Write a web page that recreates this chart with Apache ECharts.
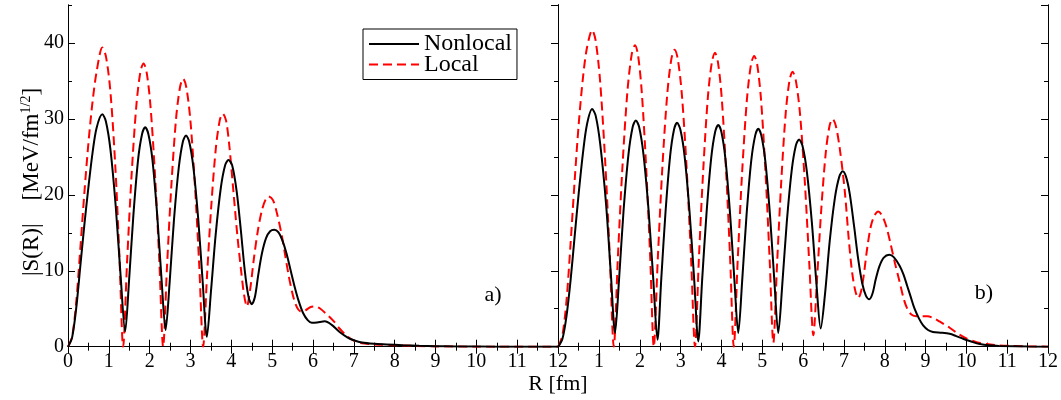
<!DOCTYPE html>
<html>
<head>
<meta charset="utf-8">
<script src="https://cdn.jsdelivr.net/npm/echarts@6/dist/echarts.min.js"></script>
<style>html,body{margin:0;padding:0;background:#fff}#c{width:1061px;height:400px}</style>
</head>
<body>
<div id="c"></div>
<script>
// ---- data ----
const seriesNames = ['Nonlocal', 'Local'];
const xTicks = [0,1,2,3,4,5,6,7,8,9,10,11,12];
const yTicks = [0,10,20,30,40];

// panel a)
const nonlocalA = [[0,0],[0.1,1.2],[0.2,5],[0.3,10.5],[0.4,16],[0.5,21],[0.6,25.5],[0.7,28.8],[0.84,30.6],
[0.927,29.7],[1.039,26.0],[1.17,18.4],[1.29,9.2],[1.40,2.0],
[1.495,8.7],[1.601,17.3],[1.716,24.6],[1.814,28.0],[1.89,28.9],
[1.968,28.0],[2.068,24.6],[2.185,17.3],[2.293,8.7],[2.39,2.2],
[2.487,8.3],[2.595,16.7],[2.713,23.6],[2.813,27.0],[2.89,27.8],
[2.969,27.0],[3.071,23.6],[3.191,16.7],[3.301,8.3],[3.40,1.3],
[3.503,7.4],[3.617,14.8],[3.742,20.9],[3.848,23.9],[3.93,24.6],
[4.02,23.9],[4.13,20.5],[4.23,15.5],[4.33,10],[4.42,6.6],[4.5,5.6],[4.58,6.6],[4.66,9.5],[4.75,12.3],[4.85,14.3],[4.95,15.2],[5.05,15.4],
[5.15,15.1],[5.25,14.0],[5.35,12.3],[5.45,10.1],[5.55,7.9],[5.65,6.0],[5.76,4.4],[5.87,3.5],[5.97,3.15],[6.1,3.2],[6.29,3.35],[6.45,2.9],[6.66,1.9],[6.85,1.2],[7.0,0.85],[7.2,0.55],[7.5,0.38],[7.8,0.3],[8.2,0.2],[8.6,0.12],[9,0.07],[9.5,0.03],[10,0.01],[11,0],[12,0]];

const localA = [[0,0],[0.1,1.3],[0.2,5.8],[0.3,12.8],[0.4,20.2],[0.5,26.8],[0.6,32.2],[0.7,36.2],[0.84,39.4],
[0.93,38.2],[1.04,33.5],[1.16,23.6],[1.26,11.8],[1.35,0],
[1.447,11.2],[1.555,22.4],[1.673,31.7],[1.773,36.2],[1.85,37.3],
[1.924,36.2],[2.02,31.7],[2.133,22.4],[2.237,11.2],[2.33,0],
[2.425,10.6],[2.531,21.2],[2.646,30.0],[2.744,34.2],[2.82,35.3],
[2.896,34.2],[2.994,30.0],[3.109,21.2],[3.215,10.6],[3.31,0],
[3.403,9.2],[3.507,18.4],[3.62,26.1],[3.716,29.8],[3.79,30.7],
[3.87,29.8],[3.95,26.5],[4.05,20.5],[4.15,14.5],[4.24,10],[4.31,6.9],[4.38,5.3],[4.46,7.5],[4.55,11.5],[4.65,15.3],[4.75,18.0],[4.84,19.4],[4.91,19.8],
[5.02,19.3],[5.12,17.5],[5.23,14.8],[5.32,12],[5.4,9.5],[5.48,7.4],[5.56,5.8],[5.64,4.9],[5.72,4.6],[5.82,4.8],[5.93,5.2],[6.05,5.3],[6.18,5.0],[6.33,4.3],[6.5,3.4],[6.65,2.4],[6.83,1.4],[7.0,0.8],[7.15,0.5],[7.5,0.3],[8,0.2],[8.5,0.1],[9,0.04],[10,0],[12,0]];

// panel b)
const nonlocalB = [[0,0],[0.1,1.0],[0.2,4.0],[0.3,8.7],[0.4,14.5],[0.5,20.2],[0.6,25.3],[0.7,29.2],[0.83,31.3],
[0.917,30.4],[1.029,26.6],[1.17,18.8],[1.29,9.4],[1.39,1.8],
[1.489,8.9],[1.599,17.9],[1.719,25.3],[1.821,28.9],[1.90,29.8],
[1.982,28.9],[2.088,25.3],[2.213,17.9],[2.327,8.9],[2.43,0.9],
[2.523,8.9],[2.627,17.7],[2.74,25.1],[2.836,28.6],[2.91,29.5],
[2.991,28.6],[3.095,25.1],[3.217,17.7],[3.329,8.9],[3.43,0.7],
[3.525,8.8],[3.631,17.5],[3.746,24.8],[3.844,28.3],[3.92,29.2],
[3.996,28.3],[4.094,24.8],[4.209,17.5],[4.315,8.8],[4.41,1.8],
[4.505,8.6],[4.611,17.2],[4.726,24.4],[4.824,27.8],[4.90,28.7],
[4.976,27.8],[5.074,24.4],[5.189,17.2],[5.295,8.6],[5.39,1.8],
[5.489,8.2],[5.599,16.4],[5.719,23.2],[5.821,26.5],[5.90,27.3],
[5.982,26.5],[6.088,23.2],[6.213,16.4],[6.327,8.2],[6.43,2.4],
[6.535,6.9],[6.651,13.9],[6.778,19.6],[6.886,22.4],[6.97,23.1],
[7.05,22.4],[7.14,20.2],[7.25,15.8],[7.35,11.5],[7.45,8.3],[7.54,6.7],[7.62,6.25],[7.70,7.0],[7.78,8.9],[7.87,10.6],[7.97,11.7],[8.11,12.1],[8.22,11.8],[8.36,10.7],[8.46,9.5],[8.55,8.0],[8.64,6.5],[8.73,5.0],[8.84,3.7],[8.94,2.8],[9.06,2.2],[9.18,1.95],[9.4,1.85],[9.59,1.7],[9.75,1.4],[9.92,1.05],[10.16,0.6],[10.33,0.35],[10.55,0.18],[10.8,0.1],[11.5,0.02],[12,0]];

const localB = [[0,0],[0.1,1.5],[0.2,6],[0.3,13.5],[0.4,21.8],[0.5,29.3],[0.6,35.2],[0.7,39.3],[0.83,41.7],
[0.912,40.4],[1.018,35.4],[1.143,25.0],[1.257,12.5],[1.36,0],
[1.461,11.9],[1.573,23.8],[1.695,33.7],[1.799,38.5],[1.88,39.7],
[1.951,38.5],[2.043,33.7],[2.151,23.8],[2.251,11.9],[2.34,0],
[2.439,11.7],[2.549,23.5],[2.669,33.2],[2.771,37.9],[2.85,39.1],
[2.928,37.9],[3.028,33.2],[3.145,23.5],[3.253,11.7],[3.35,0],
[3.445,11.6],[3.551,23.2],[3.666,32.9],[3.764,37.5],[3.84,38.7],
[3.911,37.5],[4.003,32.9],[4.111,23.2],[4.211,11.6],[4.30,0],
[4.397,11.5],[4.505,23.0],[4.623,32.6],[4.723,37.2],[4.80,38.3],
[4.873,37.2],[4.967,32.6],[5.077,23.0],[5.179,11.5],[5.27,0.5],
[5.361,10.9],[5.463,21.7],[5.573,30.8],[5.667,35.1],[5.74,36.2],
[5.819,35.1],[5.921,30.8],[6.041,21.7],[6.151,10.9],[6.25,1.5],
[6.341,9.0],[6.443,18.0],[6.553,25.5],[6.647,29.1],[6.72,30.0],
[6.80,29.1],[6.90,26.0],[7.02,20.5],[7.12,14.0],[7.2,9.8],[7.28,7.3],[7.35,6.4],[7.42,7.3],[7.49,9.6],[7.57,13.0],[7.66,15.9],[7.75,17.3],[7.84,17.8],[7.94,17.2],[8.04,15.8],[8.14,13.6],[8.25,11.0],[8.37,8.4],[8.47,6.2],[8.56,4.9],[8.66,4.2],[8.78,4.0],[8.9,4.0],[9.05,4.0],[9.18,3.8],[9.35,3.3],[9.5,2.8],[9.59,2.5],[9.8,1.7],[10.0,1.1],[10.25,0.6],[10.5,0.35],[10.8,0.18],[11.1,0.1],[11.6,0.03],[12,0]];

// ---- chart ----
const FONT = 'Liberation Serif';
const chart = echarts.init(document.getElementById('c'), null, {renderer: 'canvas'});
const black = '#000';
const axisLine = {show: true, lineStyle: {color: black, width: 1}};

function xAx(grid, pos, labels, hideMin) {
  return {
    type: 'value', gridIndex: grid, position: pos, min: xTicks[0], max: xTicks[xTicks.length-1], interval: 1,
    axisLine: axisLine, splitLine: {show: false},
    axisTick: {show: true, inside: true, length: 7, lineStyle: {color: black}},
    minorTick: {show: true, splitNumber: 2, length: 4, lineStyle: {color: black}},
    axisLabel: {show: labels, color: black, fontFamily: FONT, fontSize: 20, margin: 5, showMinLabel: !hideMin, showMaxLabel: true}
  };
}
function yAx(grid, pos, labels, major, ticks) {
  return {
    type: 'value', gridIndex: grid, position: pos, min: 0, max: 45, interval: major ? 10 : 5,
    axisLine: axisLine, splitLine: {show: false},
    axisTick: {show: ticks, inside: true, length: major ? 7 : 4, lineStyle: {color: black}},
    axisLabel: {show: labels, color: black, fontFamily: FONT, fontSize: 20, margin: 4, showMaxLabel: false}
  };
}

const solid = {color: black, width: 2, type: 'solid'};
const dashed = {color: '#ff0000', width: 2, type: [9, 5]};
function line(name, data, gi, style) {
  return {
    name: name, type: 'line', data: data, xAxisIndex: gi * 2, yAxisIndex: gi * 4,
    symbol: 'none', showSymbol: false, smooth: 0.3,
    lineStyle: style, itemStyle: {color: style.color},
    z: name === 'Local' ? 3 : 4, animation: false
  };
}

const option = {
  animation: false,
  backgroundColor: '#fff',
  textStyle: {fontFamily: FONT},
  grid: [
    {left: 68, top: 5, width: 490, height: 341.7},
    {left: 558.3, top: 5, width: 489.7, height: 341.7}
  ],
  xAxis: [
    xAx(0, 'bottom', true, false), xAx(0, 'top', false, false),
    xAx(1, 'bottom', true, true), xAx(1, 'top', false, false)
  ],
  yAxis: [
    yAx(0, 'left', true, true, true), yAx(0, 'left', false, false, true),
    yAx(0, 'right', false, true, true), yAx(0, 'right', false, false, true),
    yAx(1, 'left', false, true, false), yAx(1, 'left', false, false, false),
    yAx(1, 'right', false, true, true), yAx(1, 'right', false, false, true)
  ],
  legend: {
    data: seriesNames, orient: 'vertical', left: 363, top: 29,
    itemWidth: 50, itemHeight: 14, itemGap: -3.5,
    padding: [3, 5, 3, 5],
    borderColor: black, borderWidth: 1, borderRadius: 0,
    itemStyle: {opacity: 0, color: 'transparent', borderColor: 'transparent'},
    textStyle: {fontFamily: FONT, fontSize: 24, color: black, lineHeight: 20},
    selectedMode: false
  },
  series: [
    line('Local', localA, 0, dashed),
    line('Nonlocal', nonlocalA, 0, solid),
    line('Local', localB, 1, dashed),
    line('Nonlocal', nonlocalB, 1, solid)
  ],
  graphic: [
    {type: 'text', x: 558, y: 384, style: {text: 'R [fm]', font: '22px "Liberation Serif"', fill: black, align: 'center', verticalAlign: 'middle'}},
    {type: 'text', x: 493, y: 295, style: {text: 'a)', font: '22px "Liberation Serif"', fill: black, align: 'center', verticalAlign: 'middle'}},
    {type: 'text', x: 984, y: 293, style: {text: 'b)', font: '22px "Liberation Serif"', fill: black, align: 'center', verticalAlign: 'middle'}},
    {type: 'text', x: 31, y: 182, rotation: Math.PI / 2,
     style: {
       text: '{n||S(R)|    [MeV/fm}{s|1/2}{n|]}',
       align: 'center', verticalAlign: 'middle', fill: black,
       rich: {
         n: {fontFamily: FONT, fontSize: 23, lineHeight: 24, verticalAlign: 'bottom'},
         s: {fontFamily: FONT, fontSize: 14, lineHeight: 12, verticalAlign: 'top'}
       }
     }}
  ]
};
chart.setOption(option);
</script>
</body>
</html>
